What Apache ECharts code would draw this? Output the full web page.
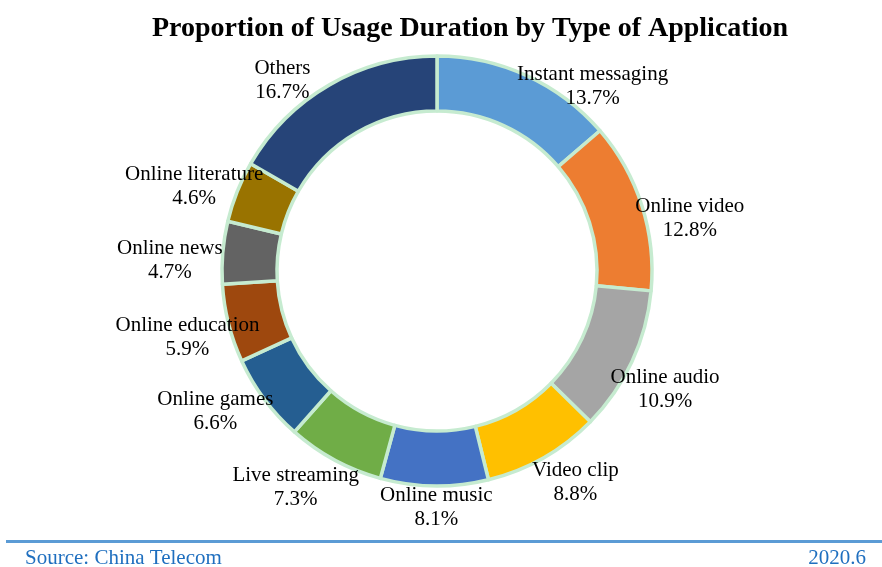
<!DOCTYPE html>
<html>
<head>
<meta charset="utf-8">
<title>Proportion of Usage Duration by Type of Application</title>
<script src="https://cdn.jsdelivr.net/npm/echarts@6/dist/echarts.min.js"></script>
<style>
  html, body { margin: 0; padding: 0; background: #ffffff; }
  #chart { width: 882px; height: 567px; }
</style>
</head>
<body>
<div id="chart"></div>
<script>
// Application categories, clockwise from 12 o'clock
const categories = [
  'Instant messaging', 'Online video', 'Online audio', 'Video clip',
  'Online music', 'Live streaming', 'Online games', 'Online education',
  'Online news', 'Online literature', 'Others'
];
// Share of usage duration (%)
const shares = [13.7, 12.8, 10.9, 8.8, 8.1, 7.3, 6.6, 5.9, 4.7, 4.6, 16.7];

const sliceColors = [
  '#5b9bd5', '#ed7d31', '#a5a5a5', '#ffc000', '#4472c4', '#70ad47',
  '#255e91', '#9e480e', '#636363', '#997300', '#264478'
];

// Ring geometry (px)
const CX = 437, CY = 271, R_IN = 160, R_OUT = 215;

// Label offsets from the rim point at each slice's mid angle (px)
const labelNudge = [
  [66, 11], [48, 13], [33, 28], [32, 25], [2, 22], [-39, 27],
  [-49, 12], [-41, 14], [-53, 8], [-43, -5], [-47, -4]
];

const total = shares.reduce((a, b) => a + b, 0);
const midAngles = [];
let acc = 0;
shares.forEach(v => { midAngles.push((acc + v / 2) / total * Math.PI * 2); acc += v; });

const SERIF = '"Liberation Serif", "Times New Roman", serif';

const chart = echarts.init(document.getElementById('chart'), null, { renderer: 'canvas' });
chart.setOption({
  animation: false,
  backgroundColor: '#ffffff',
  title: {
    text: 'Proportion of Usage Duration by Type of Application',
    left: 465,
    top: 10,
    textAlign: 'center',
    textStyle: { fontFamily: SERIF, fontWeight: 'bold', fontSize: 28, color: '#000000' }
  },
  graphic: [
    {
      type: 'line',
      shape: { x1: 6, y1: 541.5, x2: 882, y2: 541.5 },
      style: { stroke: '#5b9bd5', lineWidth: 3 }
    },
    {
      type: 'text', left: 25, top: 548,
      style: { text: 'Source: China Telecom', fill: '#1f6fbf', font: '21px ' + SERIF }
    },
    {
      type: 'text', right: 16, top: 548,
      style: { text: '2020.6', fill: '#1f6fbf', font: '21px ' + SERIF }
    }
  ],
  series: [{
    type: 'pie',
    center: [CX, CY],
    radius: [R_IN, R_OUT],
    startAngle: 90,
    clockwise: true,
    avoidLabelOverlap: false,
    itemStyle: { borderColor: '#c6ebd0', borderWidth: 3.5 },
    emphasis: { disabled: true },
    label: {
      show: true,
      position: 'outside',
      formatter: p => p.name + '\n' + p.value + '%',
      fontFamily: SERIF,
      fontSize: 21,
      lineHeight: 24,
      color: '#000000',
      align: 'center'
    },
    labelLine: { show: false, length: 0, length2: 0 },
    labelLayout: params => {
      const i = params.dataIndex;
      const a = midAngles[i];
      const ax = CX + R_OUT * Math.sin(a);
      const ay = CY - R_OUT * Math.cos(a);
      return {
        x: ax + labelNudge[i][0],
        y: ay + labelNudge[i][1],
        align: 'center',
        verticalAlign: 'middle'
      };
    },
    data: categories.map((name, i) => ({
      name: name,
      value: shares[i],
      itemStyle: { color: sliceColors[i] }
    }))
  }]
});
</script>
</body>
</html>
